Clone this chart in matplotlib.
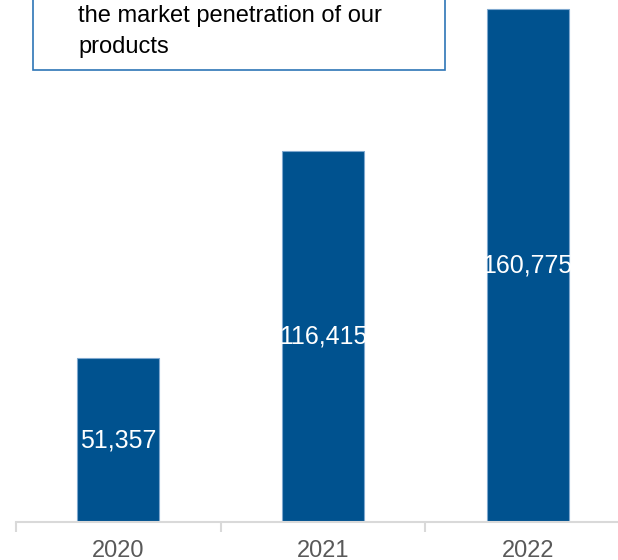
import matplotlib.pyplot as plt
from matplotlib.patches import Rectangle

years = ["2020", "2021", "2022"]
values = [51357, 116415, 160775]
note_lines = ["the market penetration of our", "products"]


def main():
    plt.rcParams['font.family'] = ['Liberation Sans', 'DejaVu Sans']

    fig = plt.figure(figsize=(6.18, 5.6), dpi=100)
    # axes run a little past the right edge, like the original slide crop
    ax = fig.add_axes([16 / 618, 38 / 560, 614 / 618, 522 / 560])

    x = list(range(len(years)))
    ax.bar(x, values, width=0.4, color="#00528F", edgecolor="#7FA8CF", linewidth=0.8)
    for xi, v in zip(x, values):
        ax.text(xi, v / 2, f"{v:,}", ha="center", va="center", color="white", fontsize=18)

    ax.set_xlim(-0.5, 2.5)
    ax.set_ylim(0, 163600)
    ax.set_yticks([])
    for side in ("top", "right", "left"):
        ax.spines[side].set_visible(False)
    ax.spines["bottom"].set_color("#D9D9D9")
    ax.spines["bottom"].set_linewidth(1.5)

    ax.set_xticks(x)
    ax.set_xticklabels(years, fontsize=17, color="#595959")
    ax.tick_params(axis="x", which="major", length=0, pad=13)
    ax.set_xticks([-0.5, 0.5, 1.5, 2.5], minor=True)
    ax.tick_params(axis="x", which="minor", length=7, width=1.5, color="#D9D9D9", direction="out")

    # callout box at the top, cut by the figure edge
    box = Rectangle((33 / 618, 1 - 70 / 560), 412 / 618, 0.2, transform=fig.transFigure,
                    facecolor="white", edgecolor="#2E75B6", linewidth=1.2, clip_on=False)
    fig.patches.append(box)
    fig.text(78 / 618, 1 - 16 / 560, note_lines[0], fontsize=17, color="black", va="center")
    fig.text(78 / 618, 1 - 47 / 560, note_lines[1], fontsize=17, color="black", va="center")

    fig.savefig("out.png", dpi=100)
    plt.close(fig)


if __name__ == "__main__":
    main()
